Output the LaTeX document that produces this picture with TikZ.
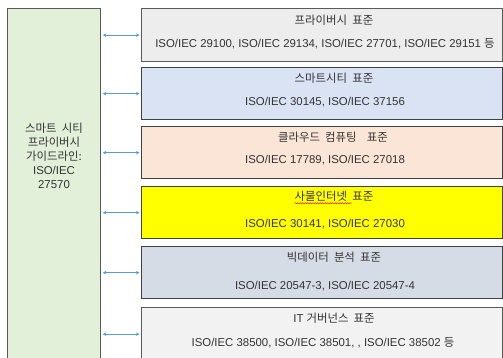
\documentclass[tikz,border=0pt]{standalone}
\usepackage{fontspec}
\setmainfont{Liberation Sans}
\newfontfamily\kr[WordSpace=2]{Noto Sans CJK KR}
\usetikzlibrary{arrows.meta,decorations.pathmorphing}
\definecolor{txt}{HTML}{333333}
\definecolor{bord}{HTML}{5A5A5A}
\definecolor{bordd}{HTML}{404040}
\definecolor{arrc}{HTML}{5B9BD5}
\definecolor{fgreen}{HTML}{E2EFD9}
\definecolor{fgray}{HTML}{EDEDED}
\definecolor{fblue}{HTML}{DAE3F3}
\definecolor{forange}{HTML}{FBE5D6}
\definecolor{fyellow}{HTML}{FFFF00}
\definecolor{fslate}{HTML}{D6DCE5}
\definecolor{flight}{HTML}{F2F2F2}
\tikzset{
  sbox/.style={draw=bord, line width=1.3pt, anchor=north west, minimum width=361pt, inner sep=0pt},
  lbl/.style={inner sep=0pt, text=txt, font=\fontsize{11.4}{14}\selectfont},
  arr/.style={draw=arrc, line width=0.9pt, {Stealth[length=3.5pt,width=3.5pt]}-{Stealth[length=3.5pt,width=3.5pt]}}
}
\begin{document}
\begin{tikzpicture}[x=1pt,y=-1pt]
\useasboundingbox (0,0) rectangle (503,358);
\clip (0,0) rectangle (503,358);
% left box
\node[draw=bord, line width=1.3pt, fill=fgreen, anchor=north west, minimum width=93pt, minimum height=356pt, inner sep=0pt] (L) at (7,8) {};
\node[lbl, align=center] (Lt) at (54,156) {\kr 스마트 시티\\ \kr 프라이버시\\ \kr 가이드라인:\\ ISO/IEC\\ 27570};
% right boxes
\node[sbox, fill=fgray, minimum height=53pt] (b1) at (141,8) {};
\node[sbox, fill=fblue, draw=bordd, minimum height=52pt] (b2) at (141,67) {};
\node[sbox, fill=forange, draw=bordd, minimum height=52pt] (b3) at (141,126) {};
\node[sbox, fill=fyellow, draw=bordd, minimum height=52pt] (b4) at (141,186) {};
\node[sbox, fill=fslate, draw=bordd, minimum height=52pt] (b5) at (141,246) {};
\node[sbox, fill=flight, draw=bord, minimum height=53pt] (b6) at (141,307) {};
% texts
\node[lbl] (t1) at (334,20) {\kr 프라이버시 표준};
\node[lbl] (s1) at (325,44) {ISO/IEC 29100, ISO/IEC 29134, ISO/IEC 27701, ISO/IEC 29151 {\kr 등}};
\node[lbl] (t2) at (334,78) {\kr 스마트시티 표준};
\node[lbl] (s2) at (325,102) {ISO/IEC 30145, ISO/IEC 37156};
\node[lbl] (t3) at (333,137) {\kr 클라우드 컴퓨팅\ \ 표준};
\node[lbl] (s3) at (325,160) {ISO/IEC 17789, ISO/IEC 27018};
\node[lbl] (t4) at (334,196) {\kr 사물인터넷 표준};
\node[lbl] (s4) at (325,224) {ISO/IEC 30141, ISO/IEC 27030};
\node[lbl] (t5) at (334,257) {\kr 빅데이터 분석 표준};
\node[lbl] (s5) at (325,286) {ISO/IEC 20547-3, ISO/IEC 20547-4};
\node[lbl] (t6) at (334,318) {IT {\kr 거버넌스 표준}};
\node[lbl] (s6) at (323,343) {ISO/IEC 38500, ISO/IEC 38501, , ISO/IEC 38502 {\kr 등}};
% spell-check underline
\coordinate (u1) at ([yshift=-3pt]t4.base west);
\coordinate (u2) at ([xshift=57pt,yshift=-3pt]t4.base west);
\draw[red!85!black, line width=0.4pt, decorate, decoration={snake, amplitude=0.6pt, segment length=2.5pt}] (u1) -- (u2);
% arrows
\foreach \b in {b1,b2,b3,b4,b5,b6}{
  \draw[arr] ([xshift=1.5pt]L.east |- \b.west) -- ([xshift=-1.5pt]\b.west);
}
\end{tikzpicture}
\end{document}
